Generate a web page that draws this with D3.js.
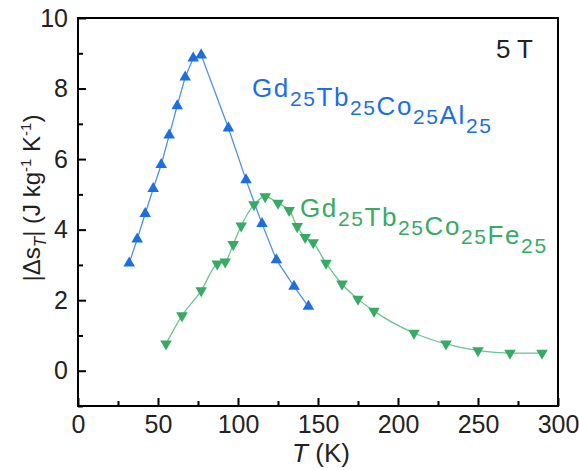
<!DOCTYPE html>
<html>
<head>
<meta charset="utf-8">
<script src="https://cdn.jsdelivr.net/npm/d3@7"></script>
<style>
  body { margin: 0; background: #fff; }
  svg text { font-family: Arial, "Liberation Sans", sans-serif; }
</style>
</head>
<body>
<svg id="chart" width="579" height="470"></svg>
<script>
/* Data */
var alT = [32, 37, 42, 47, 52, 57, 62, 67, 72, 77, 94, 105, 115, 124, 135, 144];
var alS = [3.05, 3.73, 4.45, 5.16, 5.84, 6.68, 7.51, 8.32, 8.86, 8.95, 6.88, 5.41, 4.17, 3.14, 2.39, 1.82];

var feT = [55, 65, 77, 87, 92, 97, 102, 110, 117, 125, 132, 137, 142, 147, 155, 165, 175, 185, 210, 230, 250, 270, 290];
var feS = [0.76, 1.56, 2.27, 3.03, 3.09, 3.58, 4.11, 4.71, 4.94, 4.75, 4.55, 4.09, 3.78, 3.63, 3.05, 2.46, 2.03, 1.69, 1.07, 0.76, 0.57, 0.5, 0.5];

var xTicks = [0, 50, 100, 150, 200, 250, 300];
var xMinor = [25, 75, 125, 175, 225, 275];
var yTicks = [0, 2, 4, 6, 8, 10];
var yMinor = [-1, 1, 3, 5, 7, 9];

/*Setup*/
var svg = d3.select("#chart"),
    width = +svg.attr("width"),
    height = +svg.attr("height");
var margin = {top: 18, right: 21, bottom: 64, left: 78};

var x = d3.scaleLinear().domain([0, 300]).range([margin.left, width - margin.right]);
var y = d3.scaleLinear().domain([-1, 10]).range([height - margin.bottom, margin.top]);

var blueMark = "#1c6fe0", blueLine = "#4d92ea";
var greenMark = "#37aa64", greenLine = "#6cc48c";

//axes with inward ticks
var xAxis = svg.append("g")
    .attr("transform", "translate(0," + (height - margin.bottom) + ")")
    .call(d3.axisBottom(x).tickValues(xTicks).tickSize(-8).tickPadding(9).tickFormat(d3.format("d")));
svg.append("g")
    .attr("transform", "translate(0," + (height - margin.bottom) + ")")
    .call(d3.axisBottom(x).tickValues(xMinor).tickSize(-5).tickFormat(""))
    .select(".domain").remove();

var yAxis = svg.append("g")
    .attr("transform", "translate(" + margin.left + ",0)")
    .call(d3.axisLeft(y).tickValues(yTicks).tickSize(-8).tickPadding(10).tickFormat(d3.format("d")));
svg.append("g")
    .attr("transform", "translate(" + margin.left + ",0)")
    .call(d3.axisLeft(y).tickValues(yMinor).tickSize(-5).tickFormat(""))
    .select(".domain").remove();

svg.selectAll(".tick line").attr("stroke", "#000").attr("stroke-width", 2);
svg.selectAll(".tick text").attr("font-size", 25).attr("fill", "#222");
xAxis.selectAll(".tick text").attr("dy", "0.71em");
svg.selectAll(".domain").remove();

/*Frame*/
svg.append("rect")
    .attr("x", margin.left)
    .attr("y", margin.top)
    .attr("width", width - margin.left - margin.right)
    .attr("height", height - margin.top - margin.bottom)
    .attr("fill", "none")
    .attr("stroke", "#000")
    .attr("stroke-width", 2);

/*Series*/
function drawSeries(ts, vs, lineColor, markColor, rot, curve){
  var pts = ts.map(function(t, i){ return [t, vs[i]]; });
  var line = d3.line()
      .x(function(d){ return x(d[0]); })
      .y(function(d){ return y(d[1]); })
      .curve(curve);
  svg.append("path")
      .datum(pts)
      .attr("d", line)
      .attr("fill", "none")
      .attr("stroke", lineColor)
      .attr("stroke-width", 1.3);
  var sym = d3.symbol().type(d3.symbolTriangle).size(58);
  svg.append("g").selectAll("path")
      .data(pts)
      .enter().append("path")
      .attr("d", sym)
      .attr("fill", markColor)
      .attr("transform", function(d){
        return "translate(" + x(d[0]) + "," + y(d[1]) + ") rotate(" + rot + ")";
      });
}
drawSeries(alT, alS, blueLine, blueMark, 0, d3.curveLinear);
drawSeries(feT, feS, greenLine, greenMark, 180, d3.curveMonotoneX);

/*Labels*/
function formula(px, py, parts, color){
  var t = svg.append("text")
      .attr("x", px).attr("y", py)
      .attr("fill", color)
      .attr("font-size", 26)
      .attr("letter-spacing", 1.6);
  parts.forEach(function(p){
    t.append("tspan").text(p);
    t.append("tspan").attr("font-size", 21).attr("dy", 9).text("25");
    t.append("tspan").attr("dy", -9).text("");
  });
}
formula(252, 97, ["Gd", "Tb", "Co", "Al"], blueMark);
formula(300, 217, ["Gd", "Tb", "Co", "Fe"], greenMark);

svg.append("text")
    .attr("x", 533).attr("y", 58)
    .attr("text-anchor", "end")
    .attr("font-size", 26)
    .attr("fill", "#222")
    .text("5 T");

//x label
var xl = svg.append("text")
    .attr("x", x(150) + 3).attr("y", 462)
    .attr("text-anchor", "middle")
    .attr("font-size", 26)
    .attr("fill", "#222");
xl.append("tspan").attr("font-style", "italic").text("T");
xl.append("tspan").text(" (K)");

//y label
var yl = svg.append("text")
    .attr("transform", "translate(40," + 198 + ") rotate(-90)")
    .attr("text-anchor", "middle")
    .attr("font-size", 24)
    .attr("fill", "#222");
yl.append("tspan").text("|\u0394s");
yl.append("tspan").attr("font-size", 17).attr("font-style", "italic").attr("dy", 6).text("T");
yl.append("tspan").attr("dy", -6).text("| (J kg");
yl.append("tspan").attr("font-size", 15).attr("dy", -9).text("-1");
yl.append("tspan").attr("dy", 9).text(" K");
yl.append("tspan").attr("font-size", 15).attr("dy", -9).text("-1");
yl.append("tspan").attr("dy", 9).text(")");
</script>
</body>
</html>
